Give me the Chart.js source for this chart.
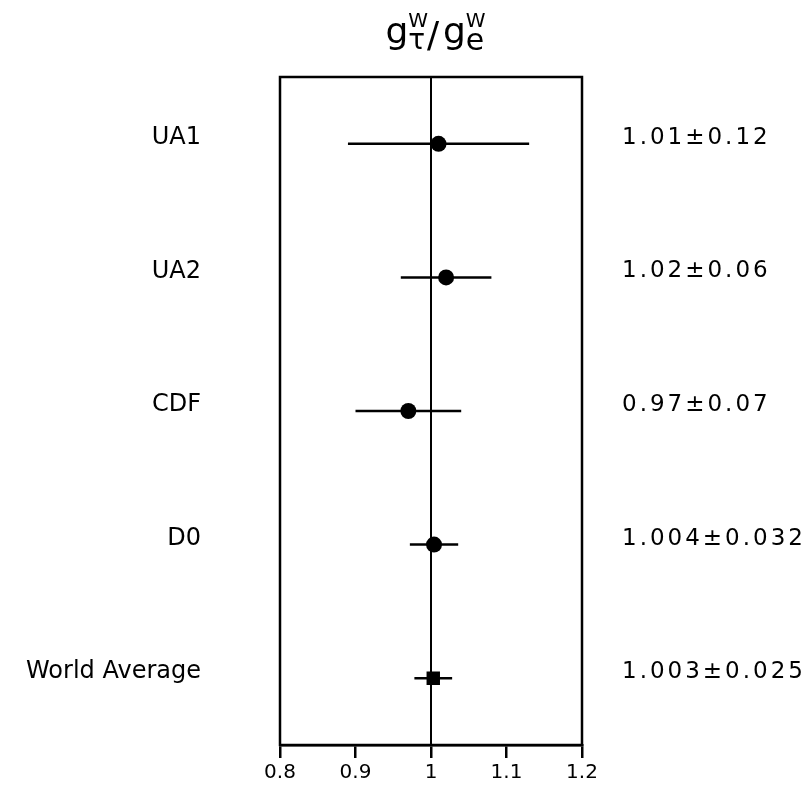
<!DOCTYPE html>
<html>
<head>
<meta charset="utf-8">
<script src="https://cdn.jsdelivr.net/npm/chart.js@4/dist/chart.umd.min.js"></script>
<style>
  body { margin: 0; background: #fff; }
  #wrap { width: 809px; height: 785px; }
</style>
</head>
<body>
<div id="wrap"><canvas id="chart" width="809" height="785"></canvas></div>
<script>
// Daten: g_tau / g_e aus W-Zerfaellen
const experiments = ["UA1", "UA2", "CDF", "D0", "World Average"];
const ratio = [1.01, 1.02, 0.97, 1.004, 1.003];
const ratioErr = [0.12, 0.06, 0.07, 0.032, 0.025];
const xTicks = [0.8, 0.9, 1.0, 1.1, 1.2];
const xTickLabels = ["0.8", "0.9", "1", "1.1", "1.2"];
const refValue = 1.0;

const FONT = "DejaVu Sans";
Chart.defaults.font.family = FONT;
Chart.defaults.color = "#000";

// Titel g^W_tau / g^W_e oberhalb der Box
function drawTitle(ctx, cx) {
  const parts = [
    { t: "g", size: 36, base: 43 },
    { stack: [{ t: "W", size: 20, base: 27 }, { t: "τ", size: 28, base: 49 }] },
    { t: "/", size: 36, base: 47 },
    { t: " ", size: 12, base: 47 },
    { t: "g", size: 36, base: 43 },
    { stack: [{ t: "W", size: 20, base: 27 }, { t: "e", size: 30, base: 50 }] }
  ];
  const w = (p) => { ctx.font = `${p.size}px ${FONT}`; return ctx.measureText(p.t).width; };
  const widths = parts.map(p => p.stack ? Math.max(...p.stack.map(w)) : w(p));
  let x = cx - widths.reduce((a, b) => a + b, 0) / 2;
  ctx.fillStyle = "#000";
  ctx.textAlign = "left";
  ctx.textBaseline = "alphabetic";
  parts.forEach((p, i) => {
    const items = p.stack || [p];
    items.forEach(q => {
      ctx.font = `${q.size}px ${FONT}`;
      ctx.fillText(q.t, x, q.base);
    });
    x += widths[i] - (p.stack ? 1 : 0);
  });
}

const forestPlugin = {
  id: "forest",
  beforeDatasetsDraw(chart) {
    const { ctx, chartArea: a, scales: { x, y } } = chart;
    ctx.save();
    ctx.strokeStyle = "#000";
    // Referenzlinie bei 1
    ctx.lineWidth = 2;
    const xr = x.getPixelForValue(refValue);
    ctx.beginPath();
    ctx.moveTo(xr, a.top);
    ctx.lineTo(xr, a.bottom);
    ctx.stroke();
    // Fehlerbalken
    ctx.lineWidth = 2.5;
    ratio.forEach((v, i) => {
      const py = y.getPixelForValue(i);
      ctx.beginPath();
      ctx.moveTo(x.getPixelForValue(v - ratioErr[i]), py);
      ctx.lineTo(x.getPixelForValue(v + ratioErr[i]), py);
      ctx.stroke();
    });
    ctx.restore();
  },
  afterDraw(chart) {
    const { ctx, chartArea: a, scales: { y } } = chart;
    ctx.save();
    // Rahmen
    ctx.strokeStyle = "#000";
    ctx.lineWidth = 2.5;
    ctx.strokeRect(a.left, a.top, a.right - a.left, a.bottom - a.top);
    // Werte rechts
    ctx.fillStyle = "#000";
    ctx.font = `23px ${FONT}`;
    ctx.letterSpacing = "3px";
    ctx.textAlign = "left";
    ctx.textBaseline = "middle";
    ratio.forEach((v, i) => {
      ctx.fillText(`${v}±${ratioErr[i]}`, a.right + 40, y.getPixelForValue(i) - 6);
    });
    ctx.letterSpacing = "0px";
    drawTitle(ctx, (a.left + a.right) / 2 + 5);
    ctx.restore();
  }
};

new Chart(document.getElementById("chart"), {
  type: "scatter",
  data: {
    labels: experiments,
    datasets: [{
      data: ratio.map((v, i) => ({ x: v, y: experiments[i] })),
      backgroundColor: "#000",
      borderWidth: 0,
      pointStyle: (c) => c.dataIndex === experiments.length - 1 ? "rect" : "circle",
      pointRadius: (c) => c.dataIndex === experiments.length - 1 ? 9.5 : 8,
      pointHoverRadius: 8
    }]
  },
  options: {
    responsive: false,
    animation: false,
    layout: { padding: { top: 77, right: 227, bottom: 0, left: 0 } },
    plugins: {
      legend: { display: false },
      tooltip: { enabled: false }
    },
    scales: {
      x: {
        type: "linear",
        min: 0.8,
        max: 1.2,
        afterBuildTicks: (s) => { s.ticks = xTicks.map(v => ({ value: v })); },
        afterFit: (s) => { s.height = 40; },
        ticks: {
          padding: 3,
          font: { size: 20 },
          color: "#000",
          callback: (v, i) => xTickLabels[i]
        },
        grid: {
          drawOnChartArea: false,
          drawTicks: true,
          tickLength: 13,
          color: "#000",
          lineWidth: 2.5
        },
        border: { display: true, color: "#000", width: 2.5 }
      },
      y: {
        type: "category",
        labels: experiments,
        offset: true,
        // Padding der Labels nicht auf oben/unten aufschlagen
        afterFit: (s) => { s.width = 280; s.paddingTop = 0; s.paddingBottom = 0; },
        ticks: {
          padding: 79,
          labelOffset: -6,
          autoSkip: false,
          font: { size: 24 },
          color: "#000"
        },
        grid: { display: false, drawTicks: false },
        border: { display: false }
      }
    }
  },
  plugins: [forestPlugin]
});
</script>
</body>
</html>
